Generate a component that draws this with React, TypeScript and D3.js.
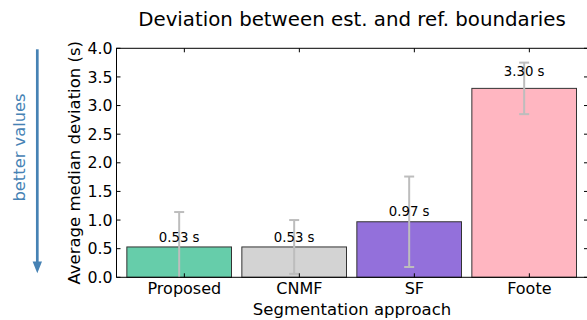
import React, { useRef, useEffect } from "react";
import * as d3 from "d3";

const categories = ["Proposed", "CNMF", "SF", "Foote"];
const medians = [0.53, 0.53, 0.97, 3.3];
const errors = [0.61, 0.47, 0.79, 0.45];
const barColors = ["#66cdaa", "#d3d3d3", "#9370db", "#ffb6c1"];
const yTicks = [0, 0.5, 1, 1.5, 2, 2.5, 3, 3.5, 4];

const FONT = "DejaVu Sans, sans-serif";

const App = () => {
  const svgRef = useRef<SVGSVGElement>(null);

  useEffect(() => {
    const width = 587;
    const height = 320;
    const margin = { top: 48.3, left: 116.5, bottom: 277.3, right: 588 };

    const svg = d3.select(svgRef.current).attr("width", width).attr("height", height);
    svg.selectAll("*").remove();

    const x = d3.scaleLinear().domain([-0.09, 4.01]).range([margin.left, margin.right]);
    const y = d3.scaleLinear().domain([0, 4]).range([margin.bottom, margin.top]);
    const barW = 0.91;

    const rows = medians.map((v, i) => ({ i, v, e: errors[i], color: barColors[i] }));
    const cx = (i) => x(i + barW / 2);

    // title
    svg
      .append("text")
      .attr("x", 352)
      .attr("y", 25.5)
      .attr("text-anchor", "middle")
      .style("font-family", FONT)
      .style("font-size", "19.8px")
      .text("Deviation between est. and ref. boundaries");

    // bars
    svg
      .selectAll(".bar")
      .data(rows)
      .enter()
      .append("rect")
      .attr("class", "bar")
      .attr("x", (d) => x(d.i))
      .attr("y", (d) => y(d.v))
      .attr("width", x(barW) - x(0))
      .attr("height", (d) => y(0) - y(d.v))
      .attr("fill", (d) => d.color)
      .attr("stroke", "#333")
      .attr("stroke-width", 1);

    // error bars (lower part clipped at the axis)
    const eb = svg
      .selectAll(".err")
      .data(rows)
      .enter()
      .append("g")
      .attr("class", "err")
      .attr("stroke", "#bdbdbd")
      .attr("stroke-width", 2);
    eb.append("line")
      .attr("x1", (d) => cx(d.i))
      .attr("x2", (d) => cx(d.i))
      .attr("y1", (d) => Math.min(y(d.v - d.e), y(0)))
      .attr("y2", (d) => y(d.v + d.e));
    eb.append("line")
      .attr("x1", (d) => cx(d.i) - 5)
      .attr("x2", (d) => cx(d.i) + 5)
      .attr("y1", (d) => y(d.v + d.e))
      .attr("y2", (d) => y(d.v + d.e));
    eb.filter((d) => d.v - d.e >= 0)
      .append("line")
      .attr("x1", (d) => cx(d.i) - 5)
      .attr("x2", (d) => cx(d.i) + 5)
      .attr("y1", (d) => y(d.v - d.e))
      .attr("y2", (d) => y(d.v - d.e));

    // value labels
    svg
      .selectAll(".val")
      .data(rows)
      .enter()
      .append("text")
      .attr("class", "val")
      .attr("x", (d) => cx(d.i))
      .attr("y", (d) => y(d.v * 1.05) - 3)
      .attr("text-anchor", "middle")
      .style("font-family", FONT)
      .style("font-size", "13.3px")
      .text((d) => `${d.v.toFixed(2)} s`);

    // frame
    svg
      .append("rect")
      .attr("x", margin.left)
      .attr("y", margin.top)
      .attr("width", margin.right - margin.left)
      .attr("height", margin.bottom - margin.top)
      .attr("fill", "none")
      .attr("stroke", "#000")
      .attr("stroke-width", 1);

    // y ticks (inward, both sides)
    const yt = svg.selectAll(".yt").data(yTicks).enter().append("g").attr("class", "yt");
    yt.append("line")
      .attr("x1", margin.left)
      .attr("x2", margin.left + 4)
      .attr("y1", (d) => y(d))
      .attr("y2", (d) => y(d))
      .attr("stroke", "#000");
    yt.append("line")
      .attr("x1", margin.right - 4)
      .attr("x2", margin.right)
      .attr("y1", (d) => y(d))
      .attr("y2", (d) => y(d))
      .attr("stroke", "#000");
    yt.append("text")
      .attr("x", margin.left - 4)
      .attr("y", (d) => y(d) + 5.6)
      .attr("text-anchor", "end")
      .style("font-family", FONT)
      .style("font-size", "15.8px")
      .text((d) => d.toFixed(1));

    // x ticks
    const xt = svg.selectAll(".xt").data(categories).enter().append("g").attr("class", "xt");
    xt.append("line")
      .attr("x1", (d, i) => x(i + 0.5))
      .attr("x2", (d, i) => x(i + 0.5))
      .attr("y1", margin.bottom)
      .attr("y2", margin.bottom - 4)
      .attr("stroke", "#000");
    xt.append("line")
      .attr("x1", (d, i) => x(i + 0.5))
      .attr("x2", (d, i) => x(i + 0.5))
      .attr("y1", margin.top)
      .attr("y2", margin.top + 4)
      .attr("stroke", "#000");
    xt.append("text")
      .attr("x", (d, i) => x(i + 0.5))
      .attr("y", 293.5)
      .attr("text-anchor", "middle")
      .style("font-family", FONT)
      .style("font-size", "16px")
      .text((d) => d);

    // axis labels
    svg
      .append("text")
      .attr("x", 352)
      .attr("y", 315)
      .attr("text-anchor", "middle")
      .style("font-family", FONT)
      .style("font-size", "16.5px")
      .text("Segmentation approach");

    svg
      .append("text")
      .attr("transform", `translate(79.5,${(margin.top + margin.bottom) / 2}) rotate(-90)`)
      .attr("text-anchor", "middle")
      .style("font-family", FONT)
      .style("font-size", "16.5px")
      .text("Average median deviation (s)");

    // "better values" arrow
    svg
      .append("text")
      .attr("transform", "translate(25,147.5) rotate(-90)")
      .attr("text-anchor", "middle")
      .attr("fill", "#4682b4")
      .style("font-family", FONT)
      .style("font-size", "16.3px")
      .text("better values");

    svg
      .append("line")
      .attr("x1", 37.3)
      .attr("x2", 37.3)
      .attr("y1", 49.3)
      .attr("y2", 264)
      .attr("stroke", "#4682b4")
      .attr("stroke-width", 2.7);
    svg
      .append("path")
      .attr("d", "M32.6,261.5 L42,261.5 L37.3,273.3 Z")
      .attr("fill", "#4682b4");
  }, []);

  return (
    <div style={{ position: "absolute", left: 0, top: 0 }}>
      <svg ref={svgRef} style={{ display: "block" }}></svg>
    </div>
  );
};

export default App;
